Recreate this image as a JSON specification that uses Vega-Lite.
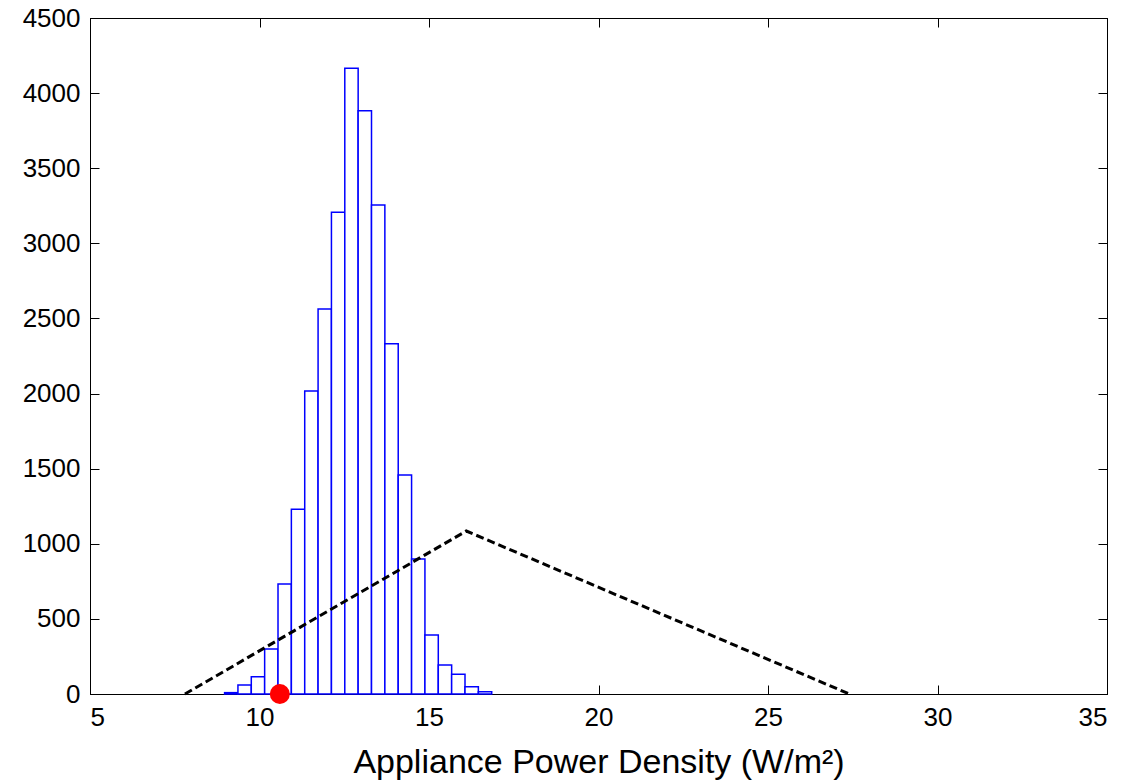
{
  "$schema": "https://vega.github.io/schema/vega-lite/v6.json",
  "autosize": "none",
  "width": 1017,
  "height": 676,
  "padding": {"left": 90, "top": 18, "right": 17, "bottom": 86},
  "background": "white",
  "config": {
    "view": {"stroke": "#000", "strokeWidth": 1},
    "axis": {
      "labelFont": "Liberation Sans",
      "titleFont": "Liberation Sans",
      "labelColor": "#000",
      "titleColor": "#000",
      "domainColor": "#000",
      "tickColor": "#000",
      "grid": false,
      "tickSize": -9,
      "labelFontSize": 26,
      "titleFontSize": 34,
      "titleFontWeight": "normal",
      "format": "d"
    }
  },
  "datasets": {
    "hist": [
      {"x0": 8.97, "x1": 9.364, "count": 9},
      {"x0": 9.364, "x1": 9.758, "count": 60},
      {"x0": 9.758, "x1": 10.152, "count": 115},
      {"x0": 10.152, "x1": 10.546, "count": 300},
      {"x0": 10.546, "x1": 10.94, "count": 732},
      {"x0": 10.94, "x1": 11.334, "count": 1230},
      {"x0": 11.334, "x1": 11.728, "count": 2017},
      {"x0": 11.728, "x1": 12.122, "count": 2563},
      {"x0": 12.122, "x1": 12.516, "count": 3207},
      {"x0": 12.516, "x1": 12.91, "count": 4166},
      {"x0": 12.91, "x1": 13.304, "count": 3882},
      {"x0": 13.304, "x1": 13.698, "count": 3256},
      {"x0": 13.698, "x1": 14.092, "count": 2332},
      {"x0": 14.092, "x1": 14.486, "count": 1458},
      {"x0": 14.486, "x1": 14.88, "count": 899},
      {"x0": 14.88, "x1": 15.274, "count": 393},
      {"x0": 15.274, "x1": 15.668, "count": 193},
      {"x0": 15.668, "x1": 16.062, "count": 131},
      {"x0": 16.062, "x1": 16.456, "count": 49},
      {"x0": 16.456, "x1": 16.85, "count": 15}
    ],
    "tri": [
      {"x": 7.8, "y": 0},
      {"x": 16.1, "y": 1085},
      {"x": 27.4, "y": 0}
    ],
    "dot": [
      {"x": 10.6, "y": 0}
    ]
  },
  "resolve": {"axis": {"x": "independent", "y": "independent"}},
  "layer": [
    {
      "data": {"name": "hist"},
      "mark": {"type": "rect", "fill": "white", "stroke": "#0000ff", "strokeWidth": 1.5},
      "encoding": {
        "x": {"field": "x0", "type": "quantitative", "scale": {"domain": [5, 35], "nice": false},
          "axis": {"values": [5, 10, 15, 20, 25, 30, 35], "title": "Appliance Power Density (W/m²)", "labelPadding": 19, "titlePadding": 15}},
        "x2": {"field": "x1"},
        "y": {"field": "count", "type": "quantitative", "scale": {"domain": [0, 4500], "nice": false},
          "axis": {"values": [0, 500, 1000, 1500, 2000, 2500, 3000, 3500, 4000, 4500], "title": null, "labelPadding": 19}},
        "y2": {"datum": 0}
      }
    },
    {
      "data": {"name": "tri"},
      "mark": {"type": "line", "color": "#000", "strokeWidth": 3, "strokeDash": [8, 4]},
      "encoding": {
        "x": {"field": "x", "type": "quantitative", "axis": {"orient": "top", "values": [5, 10, 15, 20, 25, 30, 35], "labels": false, "title": null}},
        "y": {"field": "y", "type": "quantitative", "axis": {"orient": "right", "values": [0, 500, 1000, 1500, 2000, 2500, 3000, 3500, 4000, 4500], "labels": false, "title": null}}
      }
    },
    {
      "data": {"name": "dot"},
      "mark": {"type": "point", "shape": "circle", "filled": true, "color": "#ff0000", "opacity": 1, "size": 400},
      "encoding": {
        "x": {"field": "x", "type": "quantitative", "axis": null},
        "y": {"field": "y", "type": "quantitative", "axis": null}
      }
    }
  ]
}
